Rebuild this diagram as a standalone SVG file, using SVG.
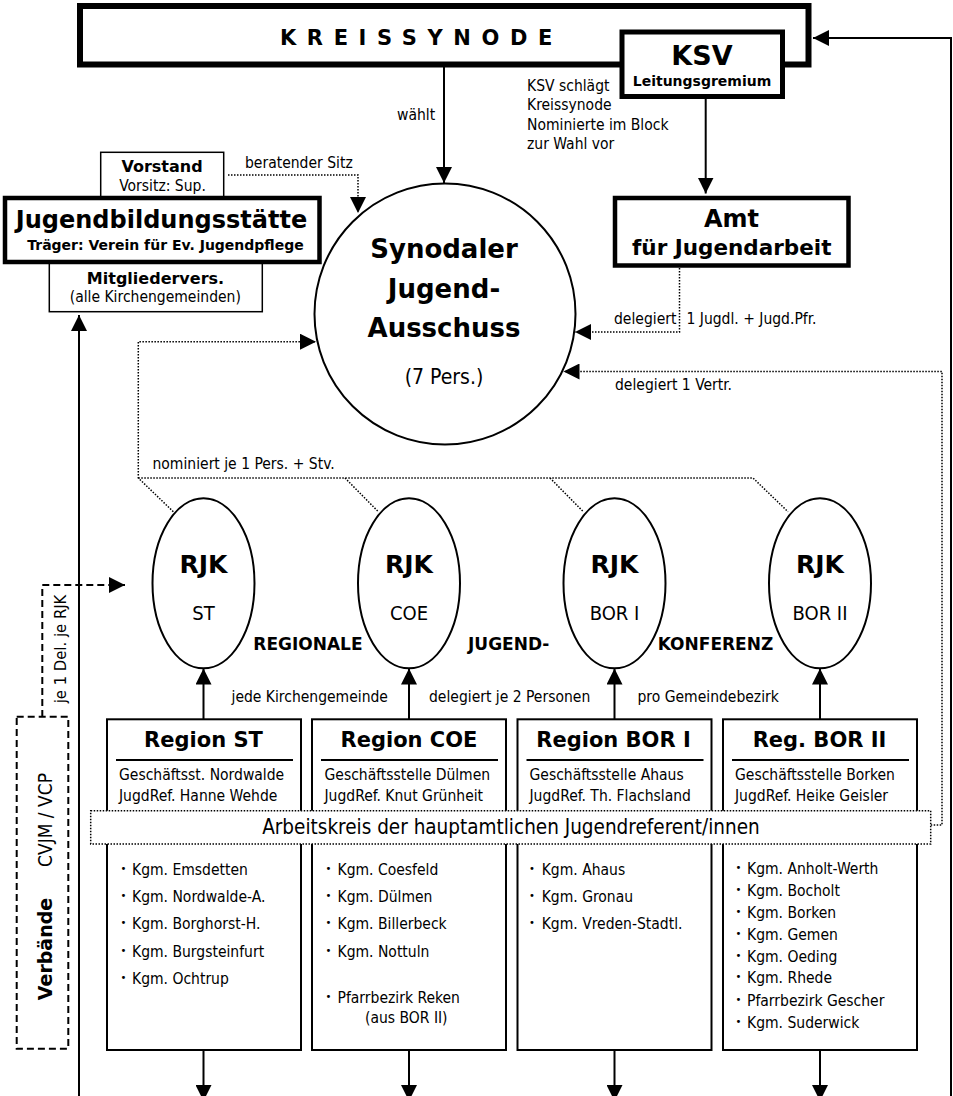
<svg xmlns="http://www.w3.org/2000/svg" width="953" height="1096" viewBox="0 0 953 1096">
<style>
.r{font-family:"DejaVu Sans Condensed","DejaVu Sans",sans-serif;font-stretch:condensed;fill:#000}
.b{font-family:"DejaVu Sans",sans-serif;font-weight:bold;fill:#000}
.m{text-anchor:middle}
.s15{font-size:15.5px}
.box{fill:#fff;stroke:#000}
.thin{stroke-width:1.5}
.ln{fill:none;stroke:#000;stroke-width:2}
.dot{fill:none;stroke:#000;stroke-width:1.5;stroke-dasharray:1.5 1.5}
.dash{fill:none;stroke:#000;stroke-width:2;stroke-dasharray:7 4}
.bul{font-family:"DejaVu Sans",sans-serif;font-size:10px}
</style>
<defs>
<marker id="arr" markerUnits="userSpaceOnUse" markerWidth="16" markerHeight="16" refX="16" refY="8" orient="auto" viewBox="0 0 16 16">
<path d="M0,0 L16,8 L0,16 z" fill="#000"/>
</marker>
</defs>
<rect width="953" height="1096" fill="#fff"/>

<g id="connectors">
<path class="ln" d="M444,67 V183" marker-end="url(#arr)"/>
<path class="ln" d="M705.7,99 V193.5" marker-end="url(#arr)"/>
<path class="ln" d="M951,1096 V38 H813" marker-end="url(#arr)"/>
<path class="ln" d="M79,1096 V315" marker-end="url(#arr)"/>
<path class="dot" d="M228,175 H358 V213" marker-end="url(#arr)"/>
<path class="dot" d="M679.5,268 V332 H575" marker-end="url(#arr)"/>
<path class="dot" d="M930.7,825 H942 V371.5 H563.5" marker-end="url(#arr)"/>
<path class="dot" d="M173.3,511.7 L138.3,478 V341.7 H316" marker-end="url(#arr)"/>
<path class="dot" d="M138.3,478 H753 L788,511.7 M345,478 L378.3,511.7 M550,478 L583.3,511.7"/>
<path class="ln" d="M203.5,719 V668.5" marker-end="url(#arr)"/>
<path class="ln" d="M409,719 V668.5" marker-end="url(#arr)"/>
<path class="ln" d="M614.5,719 V668.5" marker-end="url(#arr)"/>
<path class="ln" d="M820,719 V668.5" marker-end="url(#arr)"/>
<path class="ln" d="M203.5,1050 V1101" marker-end="url(#arr)"/>
<path class="ln" d="M409,1050 V1101" marker-end="url(#arr)"/>
<path class="ln" d="M614.5,1050 V1101" marker-end="url(#arr)"/>
<path class="ln" d="M820,1050 V1101" marker-end="url(#arr)"/>
<path class="dash" d="M42.3,717 V585 H125" marker-end="url(#arr)"/>
<text class="r s15" x="397" y="120">wählt</text>
<text class="r s15" x="245" y="168">beratender Sitz</text>
<text class="r s15" x="614" y="323.5">delegiert</text>
<text class="r s15" x="686.5" y="323.5">1 Jugdl. + Jugd.Pfr.</text>
<text class="r s15" x="615" y="390">delegiert 1 Vertr.</text>
<text class="r s15" x="152.5" y="468.5">nominiert je 1 Pers. + Stv.</text>
<text class="r s15" x="231.5" y="701.5">jede Kirchengemeinde</text>
<text class="r s15" x="429" y="701.5">delegiert je 2 Personen</text>
<text class="r s15" x="637.5" y="701.5">pro Gemeindebezirk</text>
<text class="r m" font-size="16.5" transform="translate(66,649) rotate(-90)">je 1 Del. je RJK</text>
</g>

<g id="kreissynode">
<rect class="box" x="80" y="6" width="728.5" height="58.5" stroke-width="6"/>
<text class="b" x="280" y="45" font-size="21" letter-spacing="10.6">KREISSYNODE</text>
</g>

<g id="ksv">
<rect class="box" x="622" y="32" width="160.5" height="64.5" stroke-width="5"/>
<text class="b m" x="702" y="65" font-size="27">KSV</text>
<text class="b m" x="702" y="86" font-size="14">Leitungsgremium</text>
<text class="r s15" x="527"><tspan x="527" y="91">KSV schlägt</tspan><tspan x="527" y="110">Kreissynode</tspan><tspan x="527" y="129.5">Nominierte im Block</tspan><tspan x="527" y="148.5">zur Wahl vor</tspan></text>
</g>

<g id="vorstand">
<rect class="box thin" x="100.7" y="152.3" width="123" height="45"/>
<text class="b m" x="162" y="172" font-size="16">Vorstand</text>
<text class="r m s15" x="162.5" y="191">Vorsitz: Sup.</text>
</g>

<g id="mitgliedervers">
<rect class="box thin" x="49.3" y="262" width="213" height="49.7"/>
<text class="b m" x="155.5" y="283.5" font-size="16">Mitgliedervers.</text>
<text class="r m s15" x="155.3" y="302">(alle Kirchengemeinden)</text>
</g>

<g id="jugendbildungsstaette">
<rect class="box" x="5" y="198" width="314.5" height="64" stroke-width="4.5"/>
<text class="b m" x="161.5" y="228" font-size="24">Jugendbildungsstätte</text>
<text class="b m" x="165.5" y="250" font-size="14">Träger: Verein für Ev. Jugendpflege</text>
</g>

<g id="amt">
<rect class="box" x="615" y="198" width="233.5" height="67.5" stroke-width="4.5"/>
<text class="b m" x="731.5" y="227" font-size="24">Amt</text>
<text class="b m" x="731.7" y="255" font-size="21.5">für Jugendarbeit</text>
</g>

<g id="sja">
<circle class="box" cx="445" cy="314" r="130.5" stroke-width="2"/>
<text class="b m" x="444" y="258" font-size="26">Synodaler</text>
<text class="b m" x="444" y="298" font-size="26">Jugend-</text>
<text class="b m" x="444" y="337" font-size="26">Ausschuss</text>
<text class="r m" x="444" y="383.5" font-size="21">(7 Pers.)</text>
</g>

<g id="rjk-st">
<ellipse class="box" cx="203.5" cy="583.3" rx="51" ry="85" stroke-width="2"/>
<text class="b m" x="203.5" y="573" font-size="25">RJK</text>
<text class="r m" x="203.5" y="620" font-size="20">ST</text>
</g>
<g id="rjk-coe">
<ellipse class="box" cx="409" cy="583.3" rx="51" ry="85" stroke-width="2"/>
<text class="b m" x="409" y="573" font-size="25">RJK</text>
<text class="r m" x="409" y="620" font-size="20">COE</text>
</g>
<g id="rjk-bor1">
<ellipse class="box" cx="614.5" cy="583.3" rx="51" ry="85" stroke-width="2"/>
<text class="b m" x="614.5" y="573" font-size="25">RJK</text>
<text class="r m" x="614.5" y="620" font-size="20">BOR I</text>
</g>
<g id="rjk-bor2">
<ellipse class="box" cx="820" cy="583.3" rx="51" ry="85" stroke-width="2"/>
<text class="b m" x="820" y="573" font-size="25">RJK</text>
<text class="r m" x="820" y="620" font-size="20">BOR II</text>
</g>

<g id="rjk-label">
<text class="b" x="253.3" y="650" font-size="17">REGIONALE</text>
<text class="b" x="468" y="650" font-size="17">JUGEND-</text>
<text class="b" x="657.7" y="650" font-size="17">KONFERENZ</text>
</g>

<g id="region-st">
<rect class="box" x="107" y="719.3" width="194" height="330.7" stroke-width="2"/>
<text class="b m" x="203.5" y="746.5" font-size="21">Region ST</text>
<path class="ln" d="M116,760 H293" stroke-width="2.5"/>
<text class="r s15" x="119"><tspan x="119" y="780">Geschäftsst. Nordwalde</tspan><tspan x="119" y="800.5">JugdRef. Hanne Wehde</tspan></text>
<text class="bul" x="120.5" y="872">•</text><text class="r s15" x="132" y="875">Kgm. Emsdetten</text>
<text class="bul" x="120.5" y="899">•</text><text class="r s15" x="132" y="902">Kgm. Nordwalde-A.</text>
<text class="bul" x="120.5" y="926">•</text><text class="r s15" x="132" y="929">Kgm. Borghorst-H.</text>
<text class="bul" x="120.5" y="953.5">•</text><text class="r s15" x="132" y="956.5">Kgm. Burgsteinfurt</text>
<text class="bul" x="120.5" y="981">•</text><text class="r s15" x="132" y="984">Kgm. Ochtrup</text>
</g>

<g id="region-coe">
<rect class="box" x="312" y="719.3" width="194" height="330.7" stroke-width="2"/>
<text class="b m" x="409" y="746.5" font-size="21">Region COE</text>
<path class="ln" d="M321,760 H498" stroke-width="2.5"/>
<text class="r s15" x="324.5"><tspan x="324.5" y="780">Geschäftsstelle Dülmen</tspan><tspan x="324.5" y="800.5">JugdRef. Knut Grünheit</tspan></text>
<text class="bul" x="325.5" y="872">•</text><text class="r s15" x="337.5" y="875">Kgm. Coesfeld</text>
<text class="bul" x="325.5" y="899">•</text><text class="r s15" x="337.5" y="902">Kgm. Dülmen</text>
<text class="bul" x="325.5" y="926">•</text><text class="r s15" x="337.5" y="929">Kgm. Billerbeck</text>
<text class="bul" x="325.5" y="953.5">•</text><text class="r s15" x="337.5" y="956.5">Kgm. Nottuln</text>
<text class="bul" x="325.5" y="1000">•</text><text class="r s15" x="337.5" y="1003">Pfarrbezirk Reken</text>
<text class="r s15" x="365" y="1023">(aus BOR II)</text>
</g>

<g id="region-bor1">
<rect class="box" x="517.5" y="719.3" width="194" height="330.7" stroke-width="2"/>
<text class="b m" x="613.5" y="746.5" font-size="21">Region BOR I</text>
<path class="ln" d="M526.5,760 H703.5" stroke-width="2.5"/>
<text class="r s15" x="529.5"><tspan x="529.5" y="780">Geschäftsstelle Ahaus</tspan><tspan x="529.5" y="800.5">JugdRef. Th. Flachsland</tspan></text>
<text class="bul" x="529" y="872">•</text><text class="r s15" x="541.7" y="875">Kgm. Ahaus</text>
<text class="bul" x="529" y="899">•</text><text class="r s15" x="541.7" y="902">Kgm. Gronau</text>
<text class="bul" x="529" y="926">•</text><text class="r s15" x="541.7" y="929">Kgm. Vreden-Stadtl.</text>
</g>

<g id="region-bor2">
<rect class="box" x="723" y="719.3" width="194" height="330.7" stroke-width="2"/>
<text class="b m" x="819.5" y="746.5" font-size="21">Reg. BOR II</text>
<path class="ln" d="M732,760 H909" stroke-width="2.5"/>
<text class="r s15" x="735"><tspan x="735" y="780">Geschäftsstelle Borken</tspan><tspan x="735" y="800.5">JugdRef. Heike Geisler</tspan></text>
<text class="bul" x="735.5" y="871">•</text><text class="r s15" x="747" y="874">Kgm. Anholt-Werth</text>
<text class="bul" x="735.5" y="892.7">•</text><text class="r s15" x="747" y="895.7">Kgm. Bocholt</text>
<text class="bul" x="735.5" y="915">•</text><text class="r s15" x="747" y="918">Kgm. Borken</text>
<text class="bul" x="735.5" y="937">•</text><text class="r s15" x="747" y="940">Kgm. Gemen</text>
<text class="bul" x="735.5" y="958.7">•</text><text class="r s15" x="747" y="961.7">Kgm. Oeding</text>
<text class="bul" x="735.5" y="980.3">•</text><text class="r s15" x="747" y="983.3">Kgm. Rhede</text>
<text class="bul" x="735.5" y="1003">•</text><text class="r s15" x="747" y="1006">Pfarrbezirk Gescher</text>
<text class="bul" x="735.5" y="1025">•</text><text class="r s15" x="747" y="1028">Kgm. Suderwick</text>
</g>

<g id="arbeitskreis">
<rect x="90.7" y="810.7" width="840" height="33.3" fill="#fff" stroke="#000" stroke-width="1.5" stroke-dasharray="1.5 1.5"/>
<text class="r m" x="511" y="834" font-size="20.5">Arbeitskreis der hauptamtlichen Jugendreferent/innen</text>
</g>

<g id="verbaende">
<rect class="dash" x="16.7" y="716.7" width="51.6" height="332"/>
<text class="r m" font-size="19" transform="translate(51.5,820) rotate(-90)">CVJM / VCP</text>
<text class="b m" font-size="19" transform="translate(51.5,949) rotate(-90)">Verbände</text>
</g>
</svg>
